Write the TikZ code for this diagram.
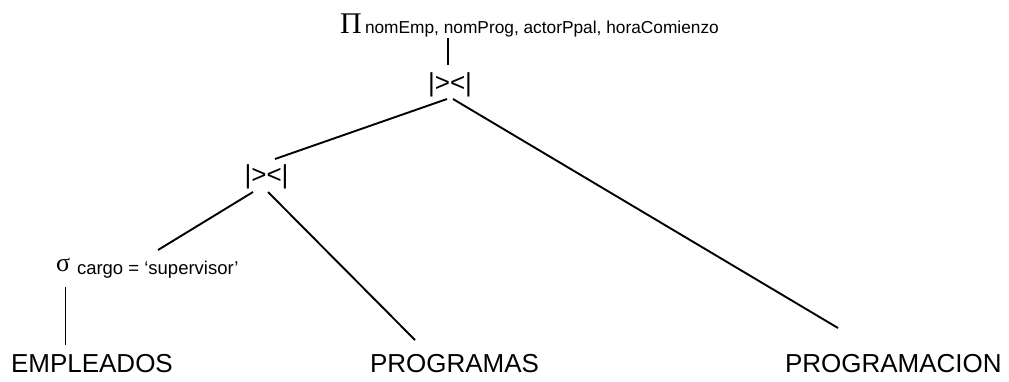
\documentclass[tikz,border=0pt]{standalone}
\usepackage{fontspec}
\setmainfont{Liberation Sans}
\newfontfamily\greekfont{Liberation Serif}
\begin{document}
\begin{tikzpicture}[x=1pt,y=-1pt,
  lbl/.style={inner sep=0pt,outer sep=0pt,anchor=base west,font=\fontsize{26}{30}\selectfont},
  sub/.style={inner sep=0pt,outer sep=0pt,anchor=base west,font=\fontsize{17.3}{20}\selectfont},
  opsym/.style={inner sep=0pt,outer sep=0pt,anchor=base,font=\fontsize{26}{30}\selectfont},
  edge/.style={line width=1.9pt}]
\useasboundingbox (0,0) rectangle (1009,381);
% nodes
\node[lbl,font=\greekfont\fontsize{30}{34}\selectfont] (pi) at (340,33) {Π};
\node[sub] (pisub) at (365,33) {nomEmp, nomProg, actorPpal, horaComienzo};
\node[opsym] (j1) at (450,91.5) {|><|};
\node[opsym] (j2) at (266.5,183.5) {|><|};
\node[lbl,font=\greekfont\fontsize{26}{30}\selectfont] (sigma) at (56,271.5) {σ};
\node[sub,font=\fontsize{18.5}{21}\selectfont] (sigsub) at (77,274.5) {cargo = ‘supervisor’};
\node[lbl] (emp) at (11,372) {EMPLEADOS};
\node[lbl] (prog) at (370,372) {PROGRAMAS};
\node[lbl] (progm) at (785,372) {PROGRAMACION};
% connector end points
\coordinate (piB) at (448,38);
\coordinate (j1T) at (448,65);
\coordinate (j1L) at (447,99);
\coordinate (j1R) at (453,99);
\coordinate (j2T) at (275,159);
\coordinate (progmT) at (838,328);
\coordinate (j2L) at (253,192);
\coordinate (j2R) at (268,192);
\coordinate (sigT) at (158,250);
\coordinate (progT) at (415,340);
\coordinate (sigB) at (65.5,287);
\coordinate (empT) at (65.5,345);
% connectors
\draw[edge] (piB) -- (j1T);
\draw[edge] (j1L) -- (j2T);
\draw[edge] (j1R) -- (progmT);
\draw[edge] (j2L) -- (sigT);
\draw[edge] (j2R) -- (progT);
\draw[edge] (sigB) -- (empT);
\end{tikzpicture}
\end{document}
